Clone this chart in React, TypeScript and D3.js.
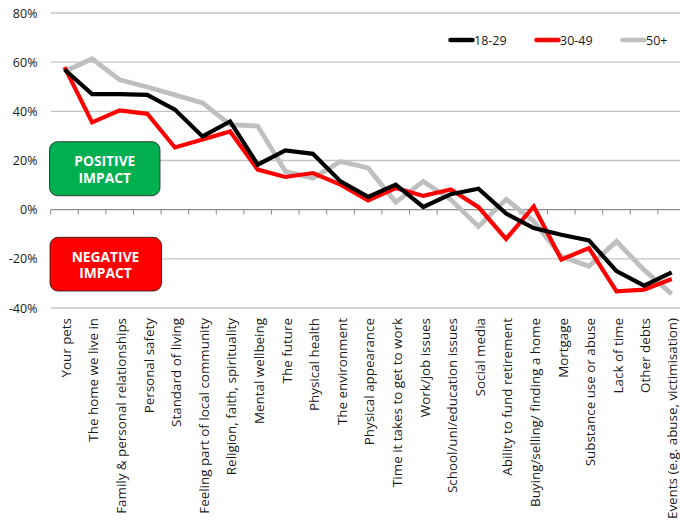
import React from "react";
import * as d3 from "d3";

const categories = [
  "Your pets",
  "The home we live in",
  "Family & personal relationships",
  "Personal safety",
  "Standard of living",
  "Feeling part of local community",
  "Religion, faith, spirituality",
  "Mental wellbeing",
  "The future",
  "Physical health",
  "The environment",
  "Physical appearance",
  "Time it takes to get to work",
  "Work/job issues",
  "School/uni/education issues",
  "Social media",
  "Ability to fund retirement",
  "Buying/selling/ finding a home",
  "Mortgage",
  "Substance use or abuse",
  "Lack of time",
  "Other debts",
  "Events (e.g. abuse, victimisation)",
];

const age18to29 = [57, 47, 47, 46.7, 40.7, 29.8, 35.9, 18.3, 24.1, 22.7, 11.5, 5.2, 10.2, 1.1, 6.3, 8.5, -1.6, -7.5, -10.2, -12.5, -25, -30.9, -25.5];
const age30to49 = [58, 35.5, 40.4, 39, 25.3, 28.5, 31.8, 16.3, 13.3, 14.9, 10.2, 3.8, 8.8, 5.6, 8.2, 1, -11.9, 1.3, -20.3, -15.6, -33.2, -32.5, -28.2];
const age50plus = [56.2, 61.4, 52.8, 49.9, 46.7, 43.4, 34.6, 34, 15.6, 12.8, 19.6, 17, 3, 11.5, 4, -6.8, 4.2, -4.7, -19, -23, -12.9, -24.5, -34.3];

const seriesNames = ["18-29", "30-49", "50+"];
const yTicks = [80, 60, 40, 20, 0, -20, -40];

const series = [
  { name: seriesNames[0], values: age18to29, color: "#000000", width: 4.2 },
  { name: seriesNames[1], values: age30to49, color: "#FF0000", width: 4.2 },
  { name: seriesNames[2], values: age50plus, color: "#BFBFBF", width: 4.8 },
];

const FONT = "'Open Sans', sans-serif";

export default function App() {
  const W = 680;
  const H = 526;
  const left = 50.7;
  const right = 685.5;
  const x = d3.scaleBand<string>().domain(categories).range([left, right]).padding(0);
  const y = d3.scaleLinear().domain([-40, 80]).range([308, 13]);
  const cx = (c: string) => (x(c) as number) + x.bandwidth() / 2;

  const line = d3
    .line<number>()
    .x((_, i) => cx(categories[i]))
    .y((v) => y(v))
    .curve(d3.curveLinear);

  const boundaries = d3.range(categories.length + 1).map((i) => left + i * x.bandwidth());
  const drawOrder = [series[2], series[1], series[0]];

  return (
    <svg
      width={W}
      height={H}
      style={{ position: "absolute", left: 0, top: 0, background: "#fff" }}
      fontFamily={FONT}
    >
      {yTicks.map((t) => (
        <g key={t}>
          <line
            x1={left}
            x2={W}
            y1={y(t)}
            y2={y(t)}
            stroke={t === 0 ? "#8C8C8C" : "#C4C4C4"}
            strokeWidth={1.3}
          />
          <text x={37.5} y={y(t)} dy="0.36em" textAnchor="end" fontSize={12.5} fill="#1a1a1a">
            {t}%
          </text>
        </g>
      ))}
      {boundaries.map((b, i) => (
        <line key={i} x1={b} x2={b} y1={y(0)} y2={y(0) + 5} stroke="#8C8C8C" strokeWidth={1} />
      ))}

      {/* Impact boxes */}
      <rect x={49.5} y={141.7} width={110.5} height={54} rx={8} fill="#00B050" stroke="#1a1a1a" strokeWidth={0.8} />
      <text textAnchor="middle" fontSize={13.8} fontWeight="bold" fill="#fff">
        <tspan x={104.8} y={166}>POSITIVE</tspan>
        <tspan x={104.8} y={182.7}>IMPACT</tspan>
      </text>
      <rect x={50} y={237.3} width={111.5} height={53.7} rx={8} fill="#FF0000" stroke="#1a1a1a" strokeWidth={0.8} />
      <text textAnchor="middle" fontSize={13.8} fontWeight="bold" fill="#fff">
        <tspan x={105.5} y={261.5}>NEGATIVE</tspan>
        <tspan x={105.5} y={278}>IMPACT</tspan>
      </text>

      {drawOrder.map((s) => (
        <path
          key={s.name}
          d={line(s.values) as string}
          fill="none"
          stroke={s.color}
          strokeWidth={s.width}
          strokeLinejoin="miter"
          strokeLinecap="butt"
        />
      ))}

      {/* x labels */}
      {categories.map((c) => (
        <text
          key={c}
          transform={`translate(${Math.min(cx(c) + 1.5, 672)},318) rotate(-90)`}
          textAnchor="end"
          dy="0.36em"
          fontSize={13.4}
          fill="#1a1a1a"
        >
          {c}
        </text>
      ))}

      {/* legend */}
      {series.map((s, i) => {
        const lx = [450.5, 536.5, 622.5][i];
        return (
          <g key={s.name}>
            <line x1={lx} x2={lx + 22} y1={40} y2={40} stroke={s.color} strokeWidth={4.5} strokeLinecap="round" />
            <text x={lx + 23.5} y={40} dy="0.36em" fontSize={12.5} fill="#1a1a1a">
              {s.name}
            </text>
          </g>
        );
      })}
    </svg>
  );
}
